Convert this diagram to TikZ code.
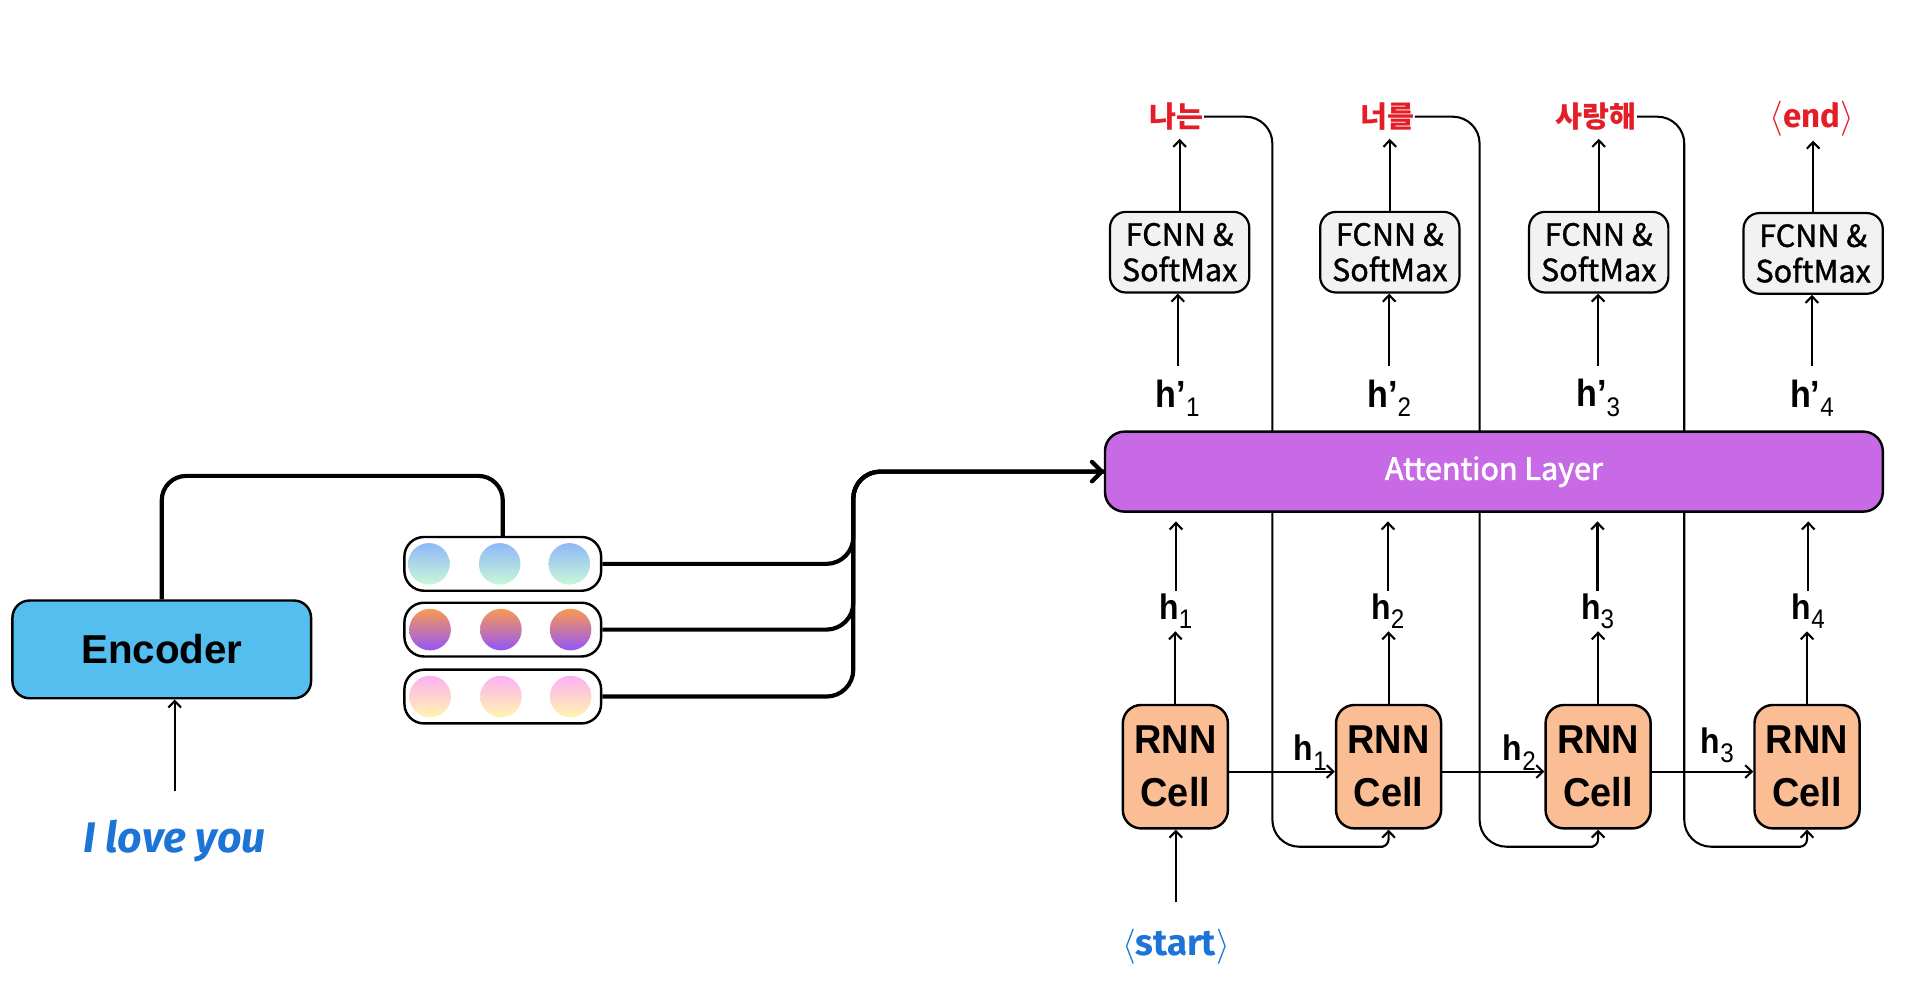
\documentclass[tikz,border=0pt]{standalone}
\usepackage{fontspec}
\setmainfont{Liberation Sans}
\newfontfamily\krfont{Noto Sans CJK KR}
\newfontfamily\krmed[FakeBold=1.2]{Noto Sans CJK KR}
\newfontfamily\krsemi[FakeBold=2.2]{Noto Sans CJK KR}
\newfontfamily\cellfont[FakeStretch=0.94]{Liberation Sans}
\newfontfamily\hfont[FakeStretch=0.9]{Liberation Sans}
\newfontfamily\handfont{Fira Sans}
\usetikzlibrary{arrows.meta,calc}
\definecolor{encblue}{HTML}{54BEEE}
\definecolor{attpurple}{HTML}{C86AE6}
\definecolor{rnnpeach}{HTML}{FBBE94}
\definecolor{fcgray}{HTML}{F2F2F2}
\definecolor{outred}{HTML}{E41E26}
\definecolor{inblue}{HTML}{1B74D6}
\definecolor{gat}{HTML}{8FB8F7}
\definecolor{gab}{HTML}{C8F8D8}
\definecolor{gbt}{HTML}{F99A52}
\definecolor{gbb}{HTML}{9455F7}
\definecolor{gct}{HTML}{FCB0F2}
\definecolor{gcb}{HTML}{FFF5AE}
\newcommand\hsub[1]{\raisebox{-0.26em}{\mdseries\fontsize{11}{11}\selectfont #1}}
\begin{document}
\begin{tikzpicture}[x=0.5pt,y=-0.5pt,
  arr/.style={line width=0.85pt,-{Straight Barb[length=2.7pt,width=5.2pt]}},
  bigarr/.style={line width=1.7pt,-{Straight Barb[length=4pt,width=8pt,line cap=round,line join=round]}},
  thickline/.style={line width=1.7pt},
  boxbase/.style={draw=black,line width=1pt,align=center,inner sep=0pt},
  encbox/.style={boxbase,fill=encblue,rounded corners=7pt,minimum width=122.2pt,minimum height=40pt,font=\fontsize{16.5}{18}\selectfont\bfseries},
  vecbox/.style={boxbase,fill=white,rounded corners=8pt,minimum width=80.5pt,minimum height=22pt},
  attbox/.style={boxbase,fill=attpurple,rounded corners=8pt,minimum width=318.3pt,minimum height=32.75pt,text=white,font=\krsemi\fontsize{12.5}{14}\selectfont},
  fcbox/.style={boxbase,line width=0.9pt,fill=fcgray,rounded corners=6.5pt,minimum width=57pt,minimum height=33pt,font=\krmed\fontsize{12.5}{14.5}\selectfont},
  rnnbox/.style={boxbase,fill=rnnpeach,rounded corners=7.5pt,minimum width=43pt,minimum height=50.5pt,font=\cellfont\bfseries\fontsize{16.5}{21.8}\selectfont},
  outlabel/.style={inner sep=0pt,minimum height=17.7pt,text=outred,font=\krfont\bfseries\fontsize{12}{14}\selectfont},
  hlabel/.style={inner sep=0pt,font=\hfont\bfseries\fontsize{14.5}{17}\selectfont},
  inlabel/.style={inner sep=0pt,text=inblue}
]
\useasboundingbox (0,0) rectangle (1560,810);

% ---------- left part ----------
\node[encbox] (enc) at (132.4,531.5) {Encoder};
\node[vecbox] (vec1) at (411.5,461.5) {};
\node[vecbox] (vec2) at (411.5,515.3) {};
\node[vecbox] (vec3) at (411.5,570.1) {};
\foreach \cx in {351,409,466} {
  \shade[top color=gat,bottom color=gab] (\cx,461.5) circle[radius=8.5pt];
  \shade[top color=gbt,bottom color=gbb] (\cx+1,515.3) circle[radius=8.5pt];
  \shade[top color=gct,bottom color=gcb] (\cx+1,570.1) circle[radius=8.5pt];
}
\node[inlabel,minimum height=40pt,font=\handfont\bfseries\itshape\fontsize{17.5}{19}\selectfont] (love) at (143,688) {I love you};
\draw[arr] (love.north) -- (love.north |- enc.south);

\coordinate (etop) at (270,389.5);
\draw[thickline,rounded corners=10pt] (enc.north) |- (etop) -| (vec1.north);

% ---------- right part ----------
\node[fcbox] (fc1) at (965.5,206.4) {FCNN \&\\SoftMax};
\node[fcbox] (fc2) at (1137.5,206.4) {FCNN \&\\SoftMax};
\node[fcbox] (fc3) at (1308.5,206.4) {FCNN \&\\SoftMax};
\node[fcbox] (fc4) at (1484,207.4) {FCNN \&\\SoftMax};

\foreach \i/\x in {1/962,2/1136.5,3/1308,4/1479} \node[rnnbox] (rnn\i) at (\x,627.5) {RNN\\Cell};

\node[outlabel] (out1) at (963,95.5) {나는};
\node[outlabel] (out2) at (1135.5,95.5) {너를};
\node[outlabel] (out3) at (1306.5,95.5) {사랑해};
\node[outlabel,font=\handfont\bfseries\fontsize{13.5}{16}\selectfont] (out4) at (1483,97) {$\langle$end$\rangle$};

\foreach \i/\x in {1/964,2/1137,3/1308,4/1483}
  \node[hlabel,minimum height=26.4pt,font=\hfont\bfseries\fontsize{15.5}{18}\selectfont] (hp\i) at (\x,326) {h’\hsub{\i}};
\node[hlabel,minimum height=16pt] (h1) at (962.5,500.3) {h\hsub{1}};
\node[hlabel,minimum height=16pt] (h2) at (1136,500.3) {h\hsub{2}};
\node[hlabel,minimum height=16pt] (h3) at (1307.5,500.3) {h\hsub{3}};
\node[hlabel,minimum height=16pt] (h4) at (1480,500.3) {h\hsub{4}};
\node[hlabel] (hh1) at (1072.5,616) {h\hsub{1}};
\node[hlabel] (hh2) at (1243.5,616) {h\hsub{2}};
\node[hlabel] (hh3) at (1405.5,610) {h\hsub{3}};

\node[inlabel,minimum height=36pt,font=\handfont\bfseries\fontsize{15}{17}\selectfont] (start) at (962.4,775) {$\langle$start$\rangle$};

% feedback lines (behind the attention layer)
\coordinate (fb1) at (1041.4,693);
\coordinate (fb2) at (1211,693);
\coordinate (fb3) at (1378.5,693);
\coordinate (fm1) at (1110,693);
\coordinate (fm2) at (1282,693);
\coordinate (fm3) at (1452,693);
\draw[arr,rounded corners=11pt] (out1.east) -| (fb1) -- (fm1) [rounded corners=3pt] -| (rnn2.south);
\draw[arr,rounded corners=11pt] (out2.east) -| (fb2) -- (fm2) [rounded corners=3pt] -| (rnn3.south);
\draw[arr,rounded corners=11pt] (out3.east) -| (fb3) -- (fm3) [rounded corners=3pt] -| (rnn4.south);

\node[attbox] (att) at (1222.7,386) {Attention Layer};

% merging thick lines into attention layer
\coordinate (mx) at (698.4,386);
\draw[thickline,rounded corners=11pt] (vec1.east) -| (mx) -- (att.west);
\draw[thickline,rounded corners=11pt] (vec2.east) -| (mx) -- (att.west);
\draw[bigarr,rounded corners=11pt] (vec3.east) -| (mx) -- (att.west);

% vertical arrows
\foreach \i in {1,2,3,4} {
  \draw[arr] (rnn\i.north) -- (rnn\i.north |- h\i.south);
  \draw[arr,shorten >=3.5pt] (h\i.north) -- (h\i.north |- att.south);
  \draw[arr] (hp\i.north) -- (hp\i.north |- fc\i.south);
  \draw[arr] (fc\i.north) -- (fc\i.north |- out\i.south);
}
\draw[arr] ([yshift=-2pt]rnn1.east) -- ([yshift=-2pt]rnn2.west);
\draw[arr] ([yshift=-2pt]rnn2.east) -- ([yshift=-2pt]rnn3.west);
\draw[arr] ([yshift=-2pt]rnn3.east) -- ([yshift=-2pt]rnn4.west);
\draw[arr] (start.north) -- (start.north |- rnn1.south);
\end{tikzpicture}
\end{document}
